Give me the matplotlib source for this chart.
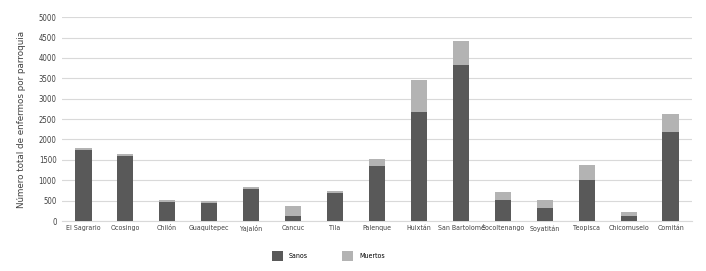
import matplotlib
matplotlib.use("Agg")
import matplotlib.pyplot as plt
import numpy as np

# Parroquias y enfermos (sanos / muertos)
parroquias = ["El Sagrario", "Ocosingo", "Chilón", "Guaquitepec", "Yajalón",
              "Cancuc", "Tila", "Palenque", "Huixtán", "San Bartolomé",
              "Socoltenango", "Soyatitán", "Teopisca", "Chicomuselo", "Comitán"]
sanos = [1750, 1590, 455, 440, 775, 130, 690, 1360, 2670, 3830, 510, 330, 1005, 130, 2190]
muertos = [35, 55, 60, 45, 60, 240, 35, 170, 780, 590, 200, 190, 370, 90, 435]
yticks = [0, 500, 1000, 1500, 2000, 2500, 3000, 3500, 4000, 4500, 5000]

plt.rcParams['font.family'] = ['DejaVu Sans']
plt.rcParams['font.stretch'] = 'condensed'

fig = plt.figure(figsize=(7.06, 2.71), dpi=100)
ax = fig.add_axes([0.088, 0.1845, 0.892, 0.752])

x = np.arange(len(parroquias))
ax.bar(x, sanos, width=0.4, color="#595959", label="Sanos", zorder=3)
ax.bar(x, muertos, width=0.4, bottom=sanos, color="#b3b3b3", label="Muertos", zorder=3)

ax.set_xlim(-0.5, len(parroquias) - 0.5)
ax.set_ylim(0, 5000)
ax.set_yticks(yticks)
ax.set_xticks(x)
ax.set_xticklabels(parroquias, fontsize=5.0, color="#404040")
ax.tick_params(axis="y", labelsize=5.6, colors="#404040", length=0, pad=4)
ax.tick_params(axis="x", length=0, pad=3)
ax.grid(axis="y", color="#d9d9d9", linewidth=0.8, zorder=0)
for s in ["top", "right", "left"]:
    ax.spines[s].set_visible(False)
ax.spines["bottom"].set_color("#d9d9d9")

ax.set_ylabel("Número total de enfermos por parroquia", fontsize=6.3, color="#404040",
              labelpad=9, fontstretch="normal")

fig.legend(loc="lower center", bbox_to_anchor=(0.465, 0.015), ncol=2, frameon=False,
           fontsize=5.0, handlelength=1.6, handleheight=1.8, columnspacing=5)

fig.savefig("out.png", dpi=100)
